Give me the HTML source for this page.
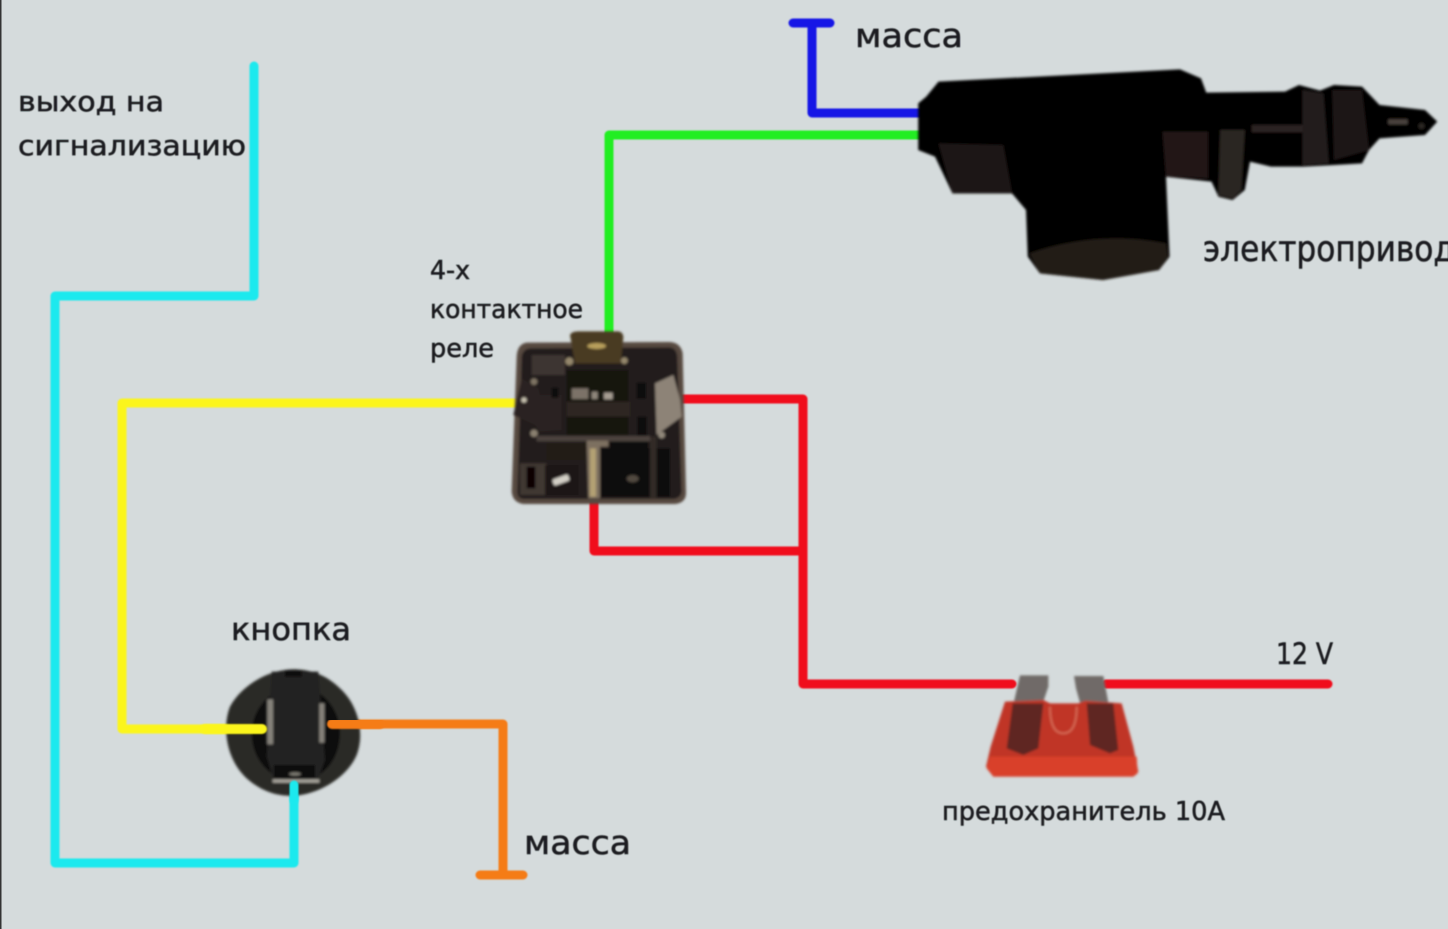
<!DOCTYPE html>
<html><head><meta charset="utf-8"><style>
html,body{margin:0;padding:0;background:#d5dbdc;overflow:hidden}
svg{display:block}
text{font-family:"DejaVu Sans","Liberation Sans",sans-serif;fill:#1c1f20;stroke:#1c1f20;stroke-width:.55}
</style></head><body>
<svg width="1448" height="929" viewBox="0 0 1448 929" xmlns="http://www.w3.org/2000/svg">
<defs>
<filter id="b1" x="-5%" y="-5%" width="110%" height="110%"><feGaussianBlur stdDeviation="0.9"/></filter>
<filter id="b2" x="-5%" y="-5%" width="110%" height="110%"><feGaussianBlur stdDeviation="4"/></filter>
<filter id="t" x="-5%" y="-20%" width="110%" height="140%"><feGaussianBlur stdDeviation="0.5"/></filter>
</defs>
<rect width="1448" height="929" fill="#d5dbdc"/>
<rect x="0" y="0" width="1.5" height="929" fill="#333"/>

<g fill="none" stroke-linecap="round" stroke-linejoin="round" stroke-width="9" filter="url(#b1)">
<path d="M254 66V296H55V863H294V785" stroke="#1ee9ee"/>
<path d="M520 403H122V729H262" stroke="#fbf51c"/>
<path d="M332 724H503V875M480 875H523" stroke="#f57c12"/>
<path d="M680 399H803V684H1012M594 500V551H803M1106 684H1328" stroke="#f0101a"/>
<path d="M919 135H609V335" stroke="#22ee22"/>
<path d="M793 23H830M812 23V113H920" stroke="#1414e6"/>
</g>

<!-- actuator -->
<g transform="translate(900 50) scale(.35 .33333)" filter="url(#b2)">
<path fill="#050303" d="M52 160 L75 140 L110 95 L800 58 L860 85 L875 128 L1100 125 L1140 105 L1200 122 L1240 105 L1320 110 L1370 165 L1500 180 L1535 215 L1500 255 L1370 265 L1340 300 L1320 340 L1240 345 L1150 350 L1060 350 L1000 335 L985 420 L950 450 L910 440 L890 395 L760 380 L770 620 L740 660 L580 690 L400 670 L365 620 L360 480 L320 430 L150 430 L100 320 L52 300Z"/>
<path fill="#1f1815" d="M110 280 L295 285 L320 430 L150 430Z"/>
<path fill="#221a17" d="M370 610 Q560 540 760 580 L765 620 L740 660 L580 690 L400 670Z"/>
<path fill="#211917" d="M750 245 H880 V385 L760 378Z"/>
<path fill="#2b2522" d="M915 240 H985 L975 420 L950 445 L910 435Z"/>
<rect x="1005" y="225" width="150" height="22" fill="#2a2421"/>
<path fill="#241d1a" d="M1150 120 L1210 130 L1225 340 L1150 345Z"/>
<path fill="#1d1715" d="M1235 120 L1320 120 L1340 300 L1240 330Z"/>
<rect x="1395" y="208" width="55" height="15" fill="#4a423c"/>
<circle cx="1490" cy="228" r="9" fill="#2a2623"/>
</g>

<!-- relay -->
<g transform="translate(490 320) scale(.33333)" filter="url(#b2)">
<path fill="#57483f" d="M110 68 Q82 72 80 110 L65 515 Q68 548 100 552 L555 552 Q590 548 588 515 L578 100 Q572 68 540 66 Z"/>
<path fill="#241d1b" d="M120 85 L540 82 Q560 85 562 110 L575 515 Q572 535 550 537 L100 537 Q82 535 82 515 L95 110 Q98 88 120 85Z"/>
<path fill="#3d3430" d="M125 105 H225 V165 H125Z"/>
<path fill="#161211" d="M230 150 H415 V345 H230Z"/>
<rect x="245" y="205" width="50" height="32" fill="#7b7268"/>
<rect x="305" y="215" width="18" height="22" fill="#8f867c"/>
<rect x="342" y="218" width="26" height="20" fill="#a69d92"/>
<rect x="230" y="245" width="190" height="45" fill="#2d2623"/>
<path fill="#4a3a22" d="M240 45 Q245 34 265 34 H385 Q400 36 400 52 L392 130 H255Z"/>
<ellipse cx="320" cy="78" rx="28" ry="9" fill="#b89f5c"/>
<circle cx="238" cy="124" r="12" fill="#94876c"/>
<circle cx="403" cy="122" r="10" fill="#94876c"/>
<path fill="#2a2320" d="M95 175 L145 205 L150 225 H215 V330 L150 335 L135 315 L70 285Z"/>
<circle cx="102" cy="240" r="8" fill="#c9c2b0"/>
<circle cx="132" cy="185" r="10" fill="#7f7464"/>
<circle cx="132" cy="340" r="11" fill="#8a8070"/>
<rect x="185" y="203" width="20" height="30" fill="#0b0908"/>
<rect x="440" y="188" width="28" height="48" fill="#0c0a09"/>
<rect x="442" y="290" width="28" height="60" fill="#0c0a09"/>
<path fill="#8d8377" d="M495 190 L550 165 L570 240 L575 290 L520 330 L500 345Z"/>
<circle cx="515" cy="345" r="10" fill="#91887a"/>
<rect x="140" y="348" width="340" height="16" fill="#4c423c"/>
<path fill="#413732" d="M90 430 H170 V525 H90Z"/>
<rect x="170" y="368" width="120" height="52" fill="#201a18"/>
<rect x="360" y="365" width="115" height="52" fill="#0f0c0b"/>
<rect x="110" y="440" width="26" height="65" fill="#070606"/>
<rect x="165" y="435" width="100" height="90" fill="#1c1716"/>
<rect x="188" y="470" width="50" height="20" rx="6" transform="rotate(-20 213 480)" fill="#d3cfc6"/>
<path fill="#7d6f60" d="M290 362 H355 V380 H330 V535 H295Z"/>
<rect x="300" y="385" width="18" height="145" fill="#b3a073"/>
<rect x="330" y="385" width="210" height="145" fill="#0a0808"/>
<ellipse cx="428" cy="476" rx="18" ry="11" fill="#51493f"/>
<rect x="480" y="350" width="20" height="185" fill="#332b28"/>
</g>

<!-- button -->
<g transform="translate(200 650) scale(.33333)" filter="url(#b2)">
<path fill="#2b2a28" d="M290 58 C210 55 125 105 90 170 C65 235 80 330 140 385 C180 420 225 440 285 437 C355 432 440 385 470 315 C495 250 475 165 420 115 C385 80 340 60 290 58Z"/>
<path fill="#0e0d0c" d="M290 110 C215 110 155 175 155 250 C155 330 215 395 290 395 C365 395 420 330 420 250 C420 175 365 110 290 110Z"/>
<path fill="#222120" d="M215 65 H355 L375 330 L355 385 H220 L200 320Z"/>
<rect x="255" y="62" width="50" height="18" fill="#0c0b0a"/>
<rect x="202" y="148" width="17" height="135" fill="#85827a"/>
<rect x="358" y="160" width="15" height="118" fill="#85827a"/>
<path fill="#0c0b0a" d="M222 345 H345 V385 H222Z"/>
<rect x="218" y="388" width="140" height="10" fill="#a8a59c"/>
<ellipse cx="285" cy="372" rx="18" ry="5" fill="#7e7b73"/>
</g>
<g fill="none" stroke-linecap="round" stroke-width="9" filter="url(#b1)">
<path d="M262 729H205" stroke="#fbf51c" stroke-width="10"/>
<path d="M332 724H380" stroke="#f57c12" stroke-width="10"/>
<path d="M294 785V800" stroke="#1ee9ee"/>
</g>

<!-- fuse -->
<g transform="translate(970 660) scale(.33333)" filter="url(#b2)">
<path fill="#6f6b68" d="M150 46 H235 V80 L220 125 H132Z"/>
<path fill="#6f6b68" d="M312 48 H400 L415 128 H330 L318 85Z"/>
<path fill="#c03626" d="M105 125 L220 120 L240 130 H325 L345 122 L455 130 L490 260 L505 335 L490 350 H70 L48 320 L62 260Z"/>
<path fill="#d9402a" d="M60 290 H500 L503 340 L490 350 H70 L50 325Z"/>
<path fill="#5e2620" d="M128 130 H220 L205 265 L160 285 L110 265Z"/>
<path fill="#5e2620" d="M350 130 H430 L445 270 L420 280 L360 255Z"/>
<path d="M240 140 Q240 220 280 220 Q320 220 320 140" fill="none" stroke="#d8705a" stroke-width="5"/>
</g>

<g filter="url(#t)">
<text x="855" y="47" font-size="33" textLength="108" lengthAdjust="spacingAndGlyphs">масса</text>
<text x="18" y="111" font-size="28" textLength="146" lengthAdjust="spacingAndGlyphs">выход на</text>
<text x="18" y="155" font-size="28" textLength="228" lengthAdjust="spacingAndGlyphs">сигнализацию</text>
<text x="430" y="279" font-size="26" textLength="40" lengthAdjust="spacingAndGlyphs">4-х</text>
<text x="430" y="318" font-size="26" textLength="153" lengthAdjust="spacingAndGlyphs">контактное</text>
<text x="430" y="357" font-size="26" textLength="64" lengthAdjust="spacingAndGlyphs">реле</text>
<text x="1203" y="261" font-size="36" textLength="252" lengthAdjust="spacingAndGlyphs">электропривод</text>
<text x="231" y="640" font-size="31" textLength="120" lengthAdjust="spacingAndGlyphs">кнопка</text>
<text x="524" y="854" font-size="33" textLength="107" lengthAdjust="spacingAndGlyphs">масса</text>
<text x="942" y="820" font-size="26" textLength="283" lengthAdjust="spacingAndGlyphs">предохранитель 10А</text>
<text x="1276" y="664" font-size="29" textLength="57" lengthAdjust="spacingAndGlyphs">12 V</text>
</g>
</svg>
</body></html>
